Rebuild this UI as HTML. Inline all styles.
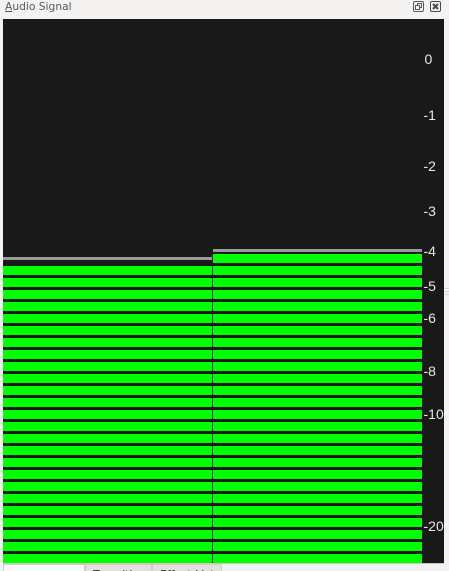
<!DOCTYPE html>
<html>
<head>
<meta charset="utf-8">
<title>Audio Signal</title>
<style>
html,body{margin:0;padding:0;width:449px;height:571px;overflow:hidden;background:#f4f3f1;}
#root{position:relative;width:449px;height:571px;overflow:hidden;}
#title{position:absolute;left:5px;top:0;font:10.7px/13px "DejaVu Sans",sans-serif;color:#555a5e;}
#title u{text-decoration:underline;}
svg{position:absolute;left:0;top:0;}
.tab{position:absolute;top:564px;height:12px;box-sizing:border-box;border:1px solid #d2cdc7;font:11px/12px "DejaVu Sans",sans-serif;color:#333;text-align:left;padding-top:4px;padding-left:7px;overflow:hidden;white-space:nowrap;}
</style>
</head>
<body>
<div id="root">
  <div id="title"><u>A</u>udio Signal</div>
  <svg width="449" height="571" viewBox="0 0 449 571" id="chart">
    <rect x="3" y="19" width="441" height="544" fill="#191919"/>
    <rect x="3" y="563" width="441" height="1" fill="#c9c7c4"/>
    <g fill="none" stroke="#5a5a5a" stroke-width="1">
      <rect x="413.5" y="1.5" width="10" height="10" rx="1.5"/>
      <rect x="417.5" y="3.5" width="4" height="4"/>
      <rect x="415.5" y="5.5" width="4" height="4" fill="#f4f3f1"/>
    </g>
    <g fill="none" stroke="#4a4a4a">
      <rect x="430.5" y="1.5" width="10" height="10" rx="1.5"/>
      <path d="M433 4l5 5M438 4l-5 5" stroke-width="2"/>
    </g>
    <g fill="#d8d6d3">
      <rect x="445" y="288" width="4" height="1"/>
      <rect x="445" y="291" width="4" height="1"/>
      <rect x="445" y="294" width="4" height="1"/>
    </g>
    <g id="bars"></g>
    <g id="ticks"></g>
  </svg>
  <div class="tab" style="left:3px;width:82px;background:#fbfaf9;"></div>
  <div class="tab" style="left:85px;width:67px;background:#e4e0db;">Transitions</div>
  <div class="tab" style="left:152px;width:70px;background:#e4e0db;">Effect List</div>
</div>
<script>
const channels = ["left", "right"];
const levels = [-4.37, -4.07];
const peaks = [-4.21, -4.0];
const tickValues = [0, -1, -2, -3, -4, -5, -6, -8, -10, -20];

const svgNS = "http://www.w3.org/2000/svg";
const barsGroup = document.getElementById("bars");
const ticksGroup = document.getElementById("ticks");

// Amplitude-linear vertical axis: decibels to pixel row
function yScale(db) {
  return 578 - 519 * Math.pow(10, db / 20);
}
// Horizontal band for a channel index
function xBand(i) {
  return { x: 3 + i * 210, w: 209 };
}

const floorY = 563;
const segmentPitch = 12;
const segmentHeight = 9;

channels.forEach(function (name, i) {
  const band = xBand(i);
  const levelY = yScale(levels[i]);
  for (let top = floorY - segmentHeight; top >= levelY && top >= 19; top -= segmentPitch) {
    const seg = document.createElementNS(svgNS, "rect");
    seg.setAttribute("x", band.x);
    seg.setAttribute("y", top);
    seg.setAttribute("width", band.w);
    seg.setAttribute("height", segmentHeight);
    seg.setAttribute("fill", "#00ff00");
    
    
    barsGroup.appendChild(seg);
  }
  const peak = document.createElementNS(svgNS, "rect");
  peak.setAttribute("x", band.x);
  peak.setAttribute("y", Math.round(yScale(peaks[i]) - 1.5));
  peak.setAttribute("width", band.w);
  peak.setAttribute("height", 3);
  peak.setAttribute("fill", "#9a9a9a");
  
  
  barsGroup.appendChild(peak);
});

tickValues.forEach(function (v) {
  const t = document.createElementNS(svgNS, "text");
  t.setAttribute("x", v === 0 ? 424.5 : 423.5);
  t.setAttribute("y", Math.round(yScale(v)) + 5);
  t.setAttribute("fill", "#e8e8e8");
  t.setAttribute("font-family", '"Liberation Sans", sans-serif');
  t.setAttribute("font-size", "14");
  
  
  t.textContent = String(v);
  ticksGroup.appendChild(t);
});
</script>
</body>
</html>
